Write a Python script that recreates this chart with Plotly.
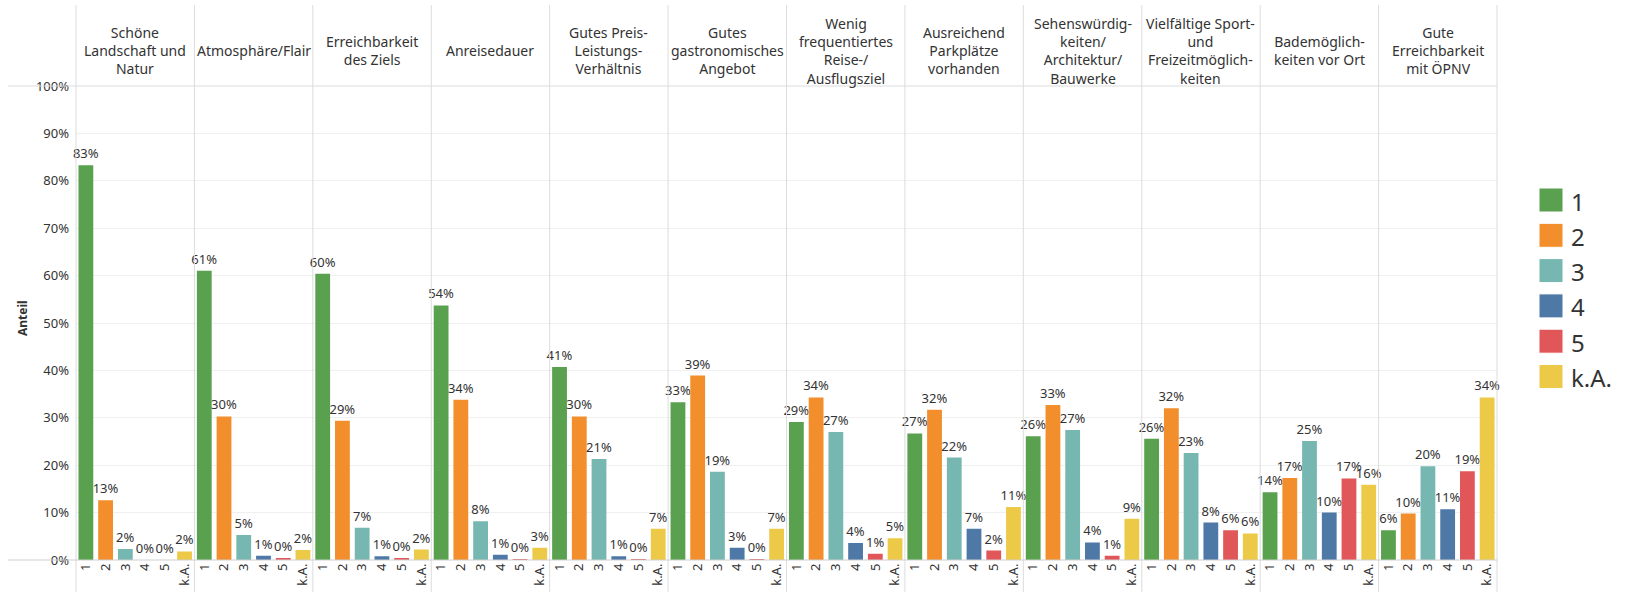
import plotly.graph_objects as go
from plotly.subplots import make_subplots

categories = ["1", "2", "3", "4", "5", "k.A."]
panel_titles = [
    "Schöne<br>Landschaft und<br>Natur",
    "Atmosphäre/Flair",
    "Erreichbarkeit<br>des Ziels",
    "Anreisedauer",
    "Gutes Preis-<br>Leistungs-<br>Verhältnis",
    "Gutes<br>gastronomisches<br>Angebot",
    "Wenig<br>frequentiertes<br>Reise-/<br>Ausflugsziel",
    "Ausreichend<br>Parkplätze<br>vorhanden",
    "Sehenswürdig-<br>keiten/<br>Architektur/<br>Bauwerke",
    "Vielfältige Sport-<br>und<br>Freizeitmöglich-<br>keiten",
    "Bademöglich-<br>keiten vor Ort",
    "Gute<br>Erreichbarkeit<br>mit ÖPNV",
]
series_1 = [83.3, 61.0, 60.4, 53.7, 40.7, 33.3, 29.1, 26.7, 26.1, 25.6, 14.3, 6.3]
series_2 = [12.6, 30.3, 29.4, 33.8, 30.3, 38.9, 34.3, 31.7, 32.7, 32.0, 17.3, 9.8]
series_3 = [2.3, 5.3, 6.8, 8.2, 21.3, 18.6, 27.0, 21.6, 27.4, 22.6, 25.1, 19.8]
series_4 = [0.0, 0.9, 0.8, 1.1, 0.8, 2.6, 3.6, 6.6, 3.7, 7.9, 10.0, 10.7]
series_5 = [0.0, 0.3, 0.3, 0.2, 0.2, 0.2, 1.3, 2.0, 0.9, 6.3, 17.2, 18.7]
series_ka = [1.8, 2.1, 2.2, 2.6, 6.6, 6.6, 4.6, 11.2, 8.7, 5.6, 15.9, 34.3]
colors = ["#59A14F", "#F28E2B", "#76B7B2", "#4E79A7", "#E15759", "#EDC948"]
y_ticks = [0, 10, 20, 30, 40, 50, 60, 70, 80, 90, 100]

series = [series_1, series_2, series_3, series_4, series_5, series_ka]
n = len(panel_titles)

W, H = 1630, 592
L, R, T, B = 76, 133, 86, 32
pw = W - L - R
ph = H - T - B


def px_x(p):
    return (p - L) / pw


def px_y(p):
    return (H - B - p) / ph


FONT = "Noto Sans"
TXT = "#333333"
fig = make_subplots(rows=1, cols=n, shared_yaxes=True, horizontal_spacing=0)

for i in range(n):
    vals = [s[i] for s in series]
    fig.add_trace(
        go.Bar(
            x=categories,
            y=vals,
            marker=dict(color=colors, line=dict(width=0)),
            text=[f"{v:.0f}%" for v in vals],
            textposition="outside",
            textfont=dict(family=FONT, size=13, color=TXT),
            constraintext="none",
            cliponaxis=False,
            showlegend=False,
            hoverinfo="skip",
        ),
        row=1,
        col=i + 1,
    )
    fig.update_xaxes(
        type="category",
        categoryorder="array",
        categoryarray=categories,
        tickangle=-90,
        tickfont=dict(family=FONT, size=13, color=TXT),
        showgrid=False,
        showline=False,
        zeroline=False,
        ticks="",
        automargin=False,
        row=1,
        col=i + 1,
    )
    fig.update_yaxes(
        range=[0, 100],
        tickvals=y_ticks,
        ticktext=[f"{t}%" for t in y_ticks],
        showgrid=True,
        gridcolor="#f0f0f0",
        gridwidth=1,
        zeroline=False,
        showline=False,
        ticks="",
        automargin=False,
        row=1,
        col=i + 1,
    )

fig.update_yaxes(
    tickfont=dict(family=FONT, size=13, color=TXT),
    ticklabelstandoff=6,
    row=1,
    col=1,
)

shapes = []
line_col = "#dcdcdc"
# vertical separators
for k in range(n + 1):
    xp = k / n
    shapes.append(dict(type="line", xref="paper", yref="paper", x0=xp, x1=xp,
                       y0=px_y(5), y1=px_y(H), line=dict(color=line_col, width=1)))
# top and baseline horizontal lines
for yp, col in [(px_y(T), line_col), (px_y(H - B), "#cfcfcf")]:
    shapes.append(dict(type="line", xref="paper", yref="paper", x0=px_x(8), x1=1.0,
                       y0=yp, y1=yp, line=dict(color=col, width=1)))

annotations = []
for i, t in enumerate(panel_titles):
    annotations.append(dict(
        text=t, xref="paper", yref="paper", x=(i + 0.5) / n, y=px_y(51),
        xanchor="center", yanchor="middle", showarrow=False, align="center",
        font=dict(family=FONT, size=14, color=TXT),
    ))

# y-axis title
annotations.append(dict(
    text="<b>Anteil</b>", xref="paper", yref="paper", x=px_x(22), y=px_y(318),
    xanchor="center", yanchor="middle", textangle=-90, showarrow=False,
    font=dict(family=FONT, size=12, color=TXT),
))

# legend
for j, (c, lab) in enumerate(zip(colors, categories)):
    cy = 200 + 35.3 * j
    shapes.append(dict(type="rect", xref="paper", yref="paper",
                       x0=px_x(1539), x1=px_x(1563), y0=px_y(cy - 12), y1=px_y(cy + 12),
                       fillcolor=c, line=dict(color="white", width=1)))
    annotations.append(dict(
        text=lab, xref="paper", yref="paper", x=px_x(1569), y=px_y(cy + 1),
        xanchor="left", yanchor="middle", showarrow=False,
        font=dict(family=FONT, size=24, color=TXT),
    ))

fig.update_layout(
    width=W,
    height=H,
    margin=dict(l=L, r=R, t=T, b=B, autoexpand=False),
    paper_bgcolor="white",
    plot_bgcolor="white",
    bargap=0.25,
    shapes=shapes,
    annotations=annotations,
    showlegend=False,
    font=dict(family=FONT),
)

fig.write_html(
    "out.html",
    config={"displayModeBar": False},
    post_script="document.body.style.margin='0px';document.body.style.overflow='hidden';",
)
